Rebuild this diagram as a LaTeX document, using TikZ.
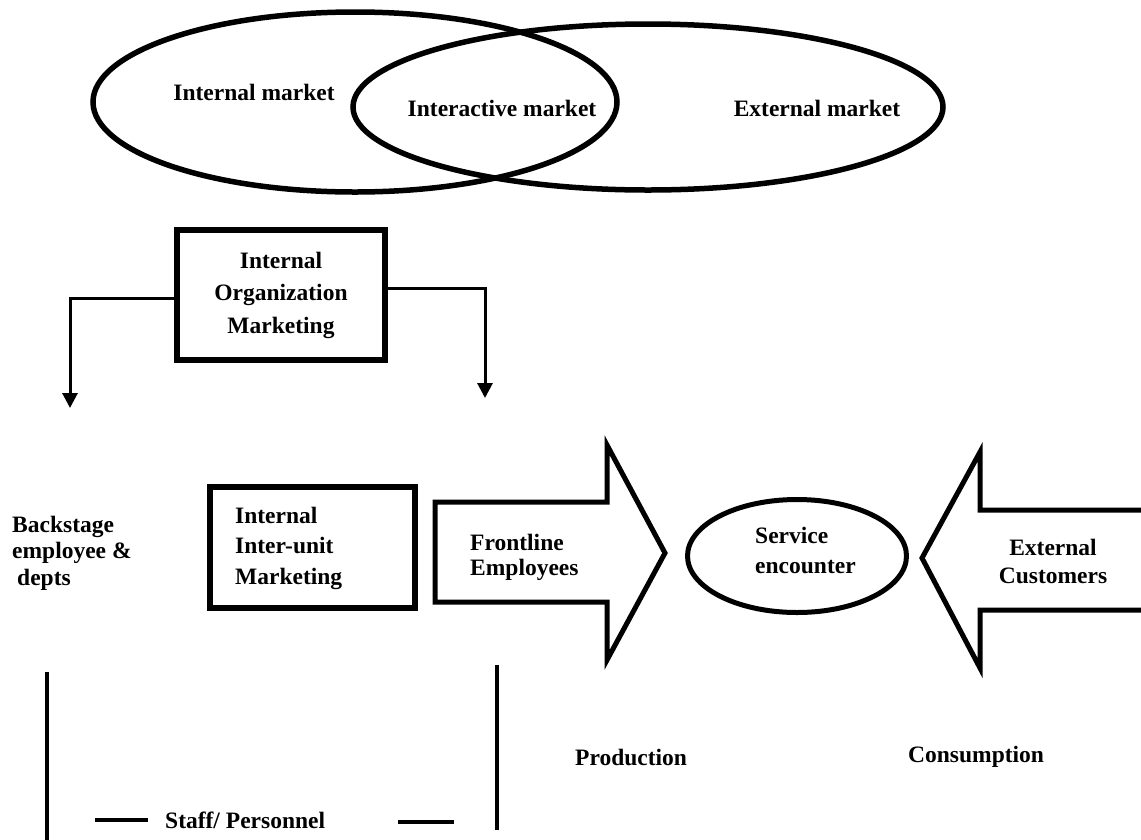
\documentclass[tikz,border=0pt]{standalone}
\usepackage{fontspec}
\setmainfont{Liberation Serif}
\usetikzlibrary{shapes.geometric,arrows.meta}
\begin{document}
\begin{tikzpicture}[x=1pt,y=-1pt,
  txt/.style={font=\fontsize{23.5}{30}\selectfont\bfseries, inner sep=0pt},
  oval/.style={ellipse, draw, line width=5.5pt, inner sep=0pt},
  boxed/.style={rectangle, draw, line width=6pt, inner sep=0pt},
  conn/.style={line width=3pt, -{Triangle[width=15pt,length=15pt]}},
  blockarrow/.style={line width=5pt, line join=miter},
  bar/.style={line width=4.5pt}
]
\useasboundingbox (0,0) rectangle (1141,839);
% top ellipses
\node[oval, minimum width=524pt, minimum height=180pt] (intm) at (355,102) {};
\node[oval, minimum width=590pt, minimum height=166pt] (extm) at (648,107) {};
\node[txt] (tint) at (254,92) {Internal market};
\node[txt] (tinter) at (502,108) {Interactive market};
\node[txt] (text) at (817,108) {External market};
% internal organization marketing
\node[boxed, minimum width=208pt, minimum height=130pt, align=center,
      font=\fontsize{23.5}{32.5}\selectfont\bfseries] (iom) at (281,295)
      {Internal\\Organization\\Marketing};
\coordinate (bkin) at (70,408);
\coordinate (frin) at (485,398);
\draw[conn] ([yshift=-3pt]iom.west) -| (bkin);
\draw[conn] ([yshift=7pt]iom.east) -| (frin);
% backstage
\node[txt, anchor=west, align=left, font=\fontsize{23.5}{26.5}\selectfont\bfseries] (back) at (12,553)
      {Backstage\\employee \&\\\hspace{5pt}depts};
% inter-unit box
\node[boxed, line width=6.5pt, minimum width=205pt, minimum height=121pt] (iu) at (312.5,547.5) {};
\node[txt, anchor=west, align=left, font=\fontsize{23.5}{30.5}\selectfont\bfseries] (iut) at (235,548)
      {Internal\\Inter-unit\\Marketing};
% frontline arrow
\draw[blockarrow] (435,502) -- (607,502) -- (607,445) -- (665,553) -- (607,660) -- (607,602) -- (435,602) -- cycle;
\node[txt, anchor=west, align=left, font=\fontsize{23.5}{25}\selectfont\bfseries] (fl) at (470,557)
      {Frontline\\Employees};
% service encounter
\node[oval, line width=5pt, minimum width=219pt, minimum height=113pt] (se) at (797,556) {};
\node[txt, anchor=west, align=left, font=\fontsize{23.5}{30}\selectfont\bfseries] (set) at (755,550)
      {Service\\encounter};
% external customers arrow
\draw[blockarrow] (1146,510) -- (980,510) -- (980,452) -- (922,558) -- (980,668) -- (980,610) -- (1146,610);
\node[txt, align=center, font=\fontsize{23.5}{28}\selectfont\bfseries] (ec) at (1053,561)
      {External\\Customers};
% bottom
\draw[bar] (47,672) -- (47,845);
\draw[bar] (497,665) -- (497,830);
\draw[bar] (95,820) -- (148,820);
\draw[bar] (398,822) -- (454,822);
\node[txt, anchor=west] (staff) at (165,820) {Staff/ Personnel};
\node[txt, anchor=west] (prod) at (575,757) {Production};
\node[txt, anchor=west] (cons) at (908,757) {Consumption};
\end{tikzpicture}
\end{document}
